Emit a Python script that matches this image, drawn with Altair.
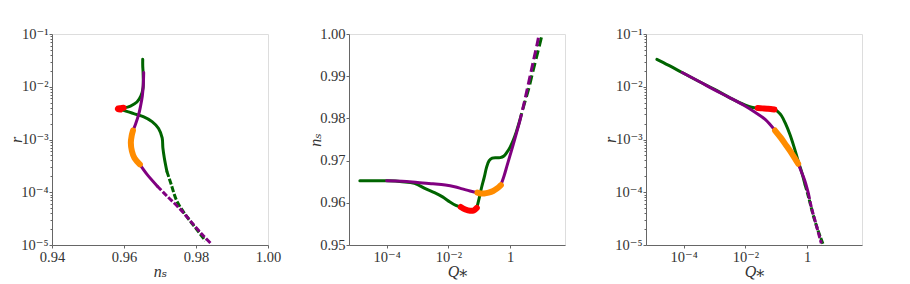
import altair as alt
import pandas as pd

# ---------------- data ----------------
# kinds: s = plain line, h = highlighted stretch, d = dashed (sparse) stretch

# Panel 1: r versus n_s
p1_green_ns = [0.9652, 0.9652, 0.9653, 0.9653, 0.9647, 0.9636, 0.9618, 0.9599,
               0.9590, 0.9583, 0.9584, 0.9590,
               0.9599, 0.9627, 0.9655, 0.9678, 0.9696, 0.9706, 0.9708, 0.9712, 0.9719,
               0.9731, 0.9747, 0.9770, 0.9798, 0.9826]
p1_green_logr = [-1.48, -1.60, -1.73, -2.02, -2.175, -2.29, -2.365, -2.40,
                 -2.408, -2.415, -2.425, -2.432,
                 -2.447, -2.51, -2.57, -2.66, -2.79, -2.97, -3.16, -3.35, -3.60,
                 -3.85, -4.17, -4.42, -4.67, -4.92]
p1_green_kind = "ssssssss" + "hhhh" + "sssssssss" + "ddddd"

p1_purple_ns = [0.96547, 0.96536, 0.96509, 0.9646, 0.9641, 0.9632, 0.9625,
                0.96213, 0.9619, 0.9622, 0.9629, 0.9644,
                0.9664, 0.9692,
                0.9719, 0.9756, 0.9794, 0.9821, 0.9844]
p1_purple_logr = [-1.73, -1.955, -2.175, -2.365, -2.52, -2.71, -2.83,
                  -2.93, -3.06, -3.22, -3.35, -3.47,
                  -3.66, -3.88,
                  -4.07, -4.32, -4.62, -4.83, -4.99]
p1_purple_kind = "sssssss" + "hhhhh" + "ss" + "ddddd"

# Panel 2: n_s versus Q*
p2_green_logq = [-4.87, -4.4, -4.0, -3.5, -3.1, -2.73, -2.45, -2.19, -1.95, -1.76, -1.6,
                 -1.45, -1.3, -1.18, -1.08,
                 -1.0, -0.92, -0.84, -0.76, -0.68, -0.58, -0.45, -0.32, -0.2, -0.1, 0.0, 0.1, 0.2, 0.3,
                 0.45, 0.6, 0.75, 0.9, 1.04]
p2_green_ns = [0.9652, 0.9652, 0.9652, 0.9650, 0.9646, 0.9633, 0.9624, 0.9614, 0.9602, 0.9594, 0.9590,
               0.9584, 0.9581, 0.9582, 0.9588,
               0.9612, 0.9638, 0.9660, 0.9685, 0.9700, 0.9706, 0.9707, 0.9707, 0.9711, 0.9720, 0.9732,
               0.9748, 0.9768, 0.9792,
               0.9832, 0.9870, 0.9915, 0.9958, 1.0]
p2_green_kind = "s" * 11 + "hhhh" + "s" * 14 + "ddddd"

p2_purple_logq = [-4.0, -3.5, -3.0, -2.5, -2.1, -1.8, -1.55, -1.3, -1.06,
                  -0.95, -0.84, -0.7, -0.55, -0.42, -0.30,
                  -0.2, -0.1, 0.0, 0.1, 0.2, 0.3,
                  0.45, 0.6, 0.75, 0.88, 0.94]
p2_purple_ns = [0.9652, 0.9651, 0.9648, 0.9645, 0.9642, 0.9638, 0.9633, 0.9628, 0.9624,
                0.9622, 0.9622, 0.9624, 0.9628, 0.9634, 0.9642,
                0.9663, 0.9688, 0.9713, 0.9738, 0.9764, 0.9790,
                0.9835, 0.9885, 0.9935, 0.9978, 1.0]
p2_purple_kind = "s" * 9 + "hhhhhh" + "s" * 6 + "ddddd"

# Panel 3: r versus Q*
p3_green_logq = [-4.87, -4.5, -4.05, -3.5, -3.0, -2.5, -2.0, -1.8, -1.6,
                 -1.45, -1.3, -1.18, -1.06,
                 -0.95, -0.83, -0.7, -0.56, -0.43, -0.29, -0.17, -0.07,
                 0.05, 0.19, 0.35, 0.52]
p3_green_logr = [-1.48, -1.59, -1.73, -1.90, -2.05, -2.21, -2.35, -2.39, -2.405,
                 -2.41, -2.415, -2.42, -2.43,
                 -2.47, -2.55, -2.70, -2.90, -3.13, -3.41, -3.63, -3.85,
                 -4.10, -4.42, -4.72, -4.99]
p3_green_kind = "s" * 9 + "hhhh" + "s" * 8 + "dddd"

p3_purple_logq = [-4.05, -3.5, -3.0, -2.5, -2.01, -1.7, -1.36, -1.04,
                  -0.85, -0.67, -0.48, -0.29,
                  -0.18, -0.07, 0.04,
                  0.14, 0.3, 0.46]
p3_purple_logr = [-1.73, -1.90, -2.06, -2.21, -2.365, -2.48, -2.62, -2.83,
                  -2.97, -3.12, -3.28, -3.46,
                  -3.62, -3.79, -4.02,
                  -4.29, -4.63, -4.97]
p3_purple_kind = "s" * 8 + "hhhh" + "sss" + "ddd"

# axis ticks
r_ticks = [1e-5, 1e-4, 1e-3, 1e-2, 1e-1]
q_ticks = [1e-4, 1e-2, 1.0]
ns_ticks_1 = [0.94, 0.96, 0.98, 1.00]
ns_ticks_2 = [0.95, 0.96, 0.97, 0.98, 0.99, 1.00]
r_minor = [k * 10.0 ** e for e in range(-5, -1) for k in range(2, 10)]

GREEN, PURPLE, RED, ORANGE = "#006400", "#800080", "#ff0000", "#ff8c00"
FONT = "Liberation Serif, DejaVu Serif, serif"
W, H = 216, 211


def build_df(curves):
    rows = []
    for cname, xs, ys, kinds in curves:
        run = 0
        order = 0
        for i, (x, y, k) in enumerate(zip(xs, ys, kinds)):
            if i > 0 and k != kinds[i - 1]:
                run += 1
                rows.append(dict(curve=cname, x=xs[i - 1], y=ys[i - 1], kind=k,
                                 run=f"{cname}{run}", order=order))
                order += 1
            rows.append(dict(curve=cname, x=x, y=y, kind=k, run=f"{cname}{run}", order=order))
            order += 1
    return pd.DataFrame(rows)


SUP = {"-1": "⁻¹", "-2": "⁻²", "-3": "⁻³", "-4": "⁻⁴", "-5": "⁻⁵"}


def log_label_expr():
    parts = []
    for e, s in SUP.items():
        parts.append(f"round(log(datum.value)/LN10) == {e} ? '10{s}' : ")
    return "".join(parts) + "'1'"


def axis(values, title, log=False, fmt=None, vertical=False):
    kw = dict(values=values, title=title, tickSize=3, labelFlush=False, grid=False,
              labelFontSize=14.5, titleFontSize=16, labelFont=FONT, titleFont=FONT,
              titleFontStyle="italic", titleFontWeight="normal",
              labelPadding=1 if vertical else 2,
              titlePadding=-4 if vertical else 0,
              labelColor="#333", titleColor="#333",
              domainColor="#666", tickColor="#666")
    if log:
        kw["labelExpr"] = log_label_expr()
    if fmt:
        kw["format"] = fmt
    return alt.Axis(**kw)


def panel(df, xenc, yenc, dash, minor_y=None):
    layers = []
    specs = [("g", "s", GREEN, 3, None), ("g", "d", GREEN, 3, dash),
             ("p", "s", PURPLE, 3, None), ("p", "d", PURPLE, 3, dash),
             ("g", "h", RED, 6, None), ("p", "h", ORANGE, 6, None)]
    for c, k, col, w, dsh in specs:
        mk = dict(color=col, strokeWidth=w, interpolate="catmull-rom", clip=True,
                  strokeCap="butt" if dsh else "round")
        if dsh:
            mk["strokeDash"] = dsh
        layers.append(
            alt.Chart(df).mark_line(**mk)
            .transform_filter((alt.datum.curve == c) & (alt.datum.kind == k))
            .encode(x=xenc, y=yenc, detail="run:N", order="order:Q")
        )
    ch = alt.layer(*layers)
    if minor_y is not None:
        mt = alt.Chart(df).mark_line(opacity=0).encode(
            x=xenc,
            y=alt.Y("y:Q", scale=minor_y[0],
                    axis=alt.Axis(values=minor_y[1], labels=False, domain=False, tickSize=2,
                                  grid=False, title=None, orient="left", tickColor="#666")),
            detail="run:N")
        ch = alt.layer(ch, mt).resolve_axis(y="independent")
    return ch.properties(width=W, height=H)


# panel 1
df1 = build_df([("g", p1_green_ns, [10 ** v for v in p1_green_logr], p1_green_kind),
                ("p", p1_purple_ns, [10 ** v for v in p1_purple_logr], p1_purple_kind)])
r_scale = alt.Scale(type="log", domain=[1e-5, 1e-1], nice=False)
x1 = alt.X("x:Q", scale=alt.Scale(domain=[0.94, 1.0], nice=False, zero=False),
           axis=axis(ns_ticks_1, "nₛ", fmt=".2f"))
y1 = alt.Y("y:Q", scale=r_scale, axis=axis(r_ticks, "r", log=True, vertical=True))
c1 = panel(df1, x1, y1, [6, 2], minor_y=(r_scale, r_minor))

# panel 2
df2 = build_df([("g", [10 ** v for v in p2_green_logq], p2_green_ns, p2_green_kind),
                ("p", [10 ** v for v in p2_purple_logq], p2_purple_ns, p2_purple_kind)])
q_scale = alt.Scale(type="log", domain=[6e-6, 60], nice=False)
x2 = alt.X("x:Q", scale=q_scale, axis=axis(q_ticks, "Q⁎", log=True))
y2 = alt.Y("y:Q", scale=alt.Scale(domain=[0.95, 1.0], nice=False, zero=False),
           axis=axis(ns_ticks_2, "nₛ", fmt=".2f", vertical=True))
c2 = panel(df2, x2, y2, [9, 4])

# panel 3
df3 = build_df([("g", [10 ** v for v in p3_green_logq], [10 ** v for v in p3_green_logr], p3_green_kind),
                ("p", [10 ** v for v in p3_purple_logq], [10 ** v for v in p3_purple_logr], p3_purple_kind)])
x3 = alt.X("x:Q", scale=q_scale, axis=axis(q_ticks, "Q⁎", log=True))
y3 = alt.Y("y:Q", scale=r_scale, axis=axis(r_ticks, "r", log=True, vertical=True))
c3 = panel(df3, x3, y3, [6, 2], minor_y=(r_scale, r_minor))

chart = alt.hconcat(c1, c2, c3, spacing=81, bounds="flush").resolve_scale(
    x="independent", y="independent"
).configure_view(stroke="#666", strokeWidth=1).configure_axis(
    labelFont=FONT, titleFont=FONT
).configure(
    padding={"left": 0, "top": 17, "right": 0, "bottom": 0}
)

chart.save("out.html", embed_options={"renderer": "svg", "actions": False})
